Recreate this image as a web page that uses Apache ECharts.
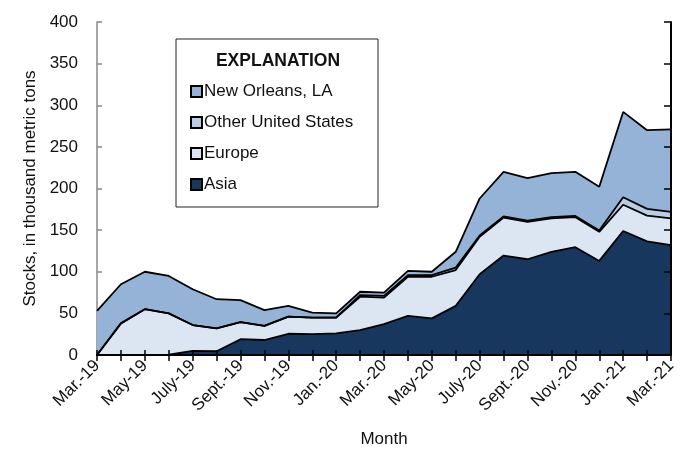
<!DOCTYPE html>
<html>
<head>
<meta charset="utf-8">
<script src="https://cdn.jsdelivr.net/npm/echarts@6/dist/echarts.min.js"></script>
<style>
html,body{margin:0;padding:0;background:#fff;}
#chart{width:681px;height:453px;}
</style>
</head>
<body>
<div id="chart"></div>
<script>
var months = ['Mar.-19','Apr.-19','May-19','June-19','July-19','Aug.-19','Sept.-19','Oct.-19','Nov.-19','Dec.-19',
  'Jan.-20','Feb.-20','Mar.-20','Apr.-20','May-20','June-20','July-20','Aug.-20','Sept.-20','Oct.-20','Nov.-20','Dec.-20',
  'Jan.-21','Feb.-21','Mar.-21'];
var asia = [0,0,0,0.5,5,4.5,19,18,25.5,25,26,30,37,47,44,59,97,119.5,115,124,129.5,113,149,136.5,132];
var europe = [0,38,55,49.5,31,27.5,20.5,17,20.5,20,19,40,32,47,50,43,45,45.5,45,40,36,35,31.5,31,32];
var otherUS = [0,0,0,0,0,0,0,0,0,0,0,2,2,2,2,3,1.5,1.5,1.5,1.5,1.5,1.5,9,8,8];
var newOrleans = [53,47,45,45,43,35,26.5,19,13,6,5,4,4,5,4,19,44.5,53.5,51,53,53,52.5,102.5,94.5,99];
var yTicks = [0,50,100,150,200,250,300,350,400];

var FONT = '"Liberation Sans",Arial,sans-serif';
var chart = echarts.init(document.getElementById('chart'), null, {renderer:'canvas'});

function mk(name, data, color){
  return {
    name: name, type: 'line', stack: 'total', data: data, symbol: 'none',
    lineStyle: {color: '#000', width: 1.8},
    areaStyle: {color: color, opacity: 1},
    itemStyle: {color: color, borderColor: '#000', borderWidth: 1.5},
    emphasis: {disabled: true}
  };
}

chart.setOption({
  animation: false,
  backgroundColor: '#fff',
  grid: {left: 97, right: 10, top: 22, bottom: 96},
  legend: {
    orient: 'vertical', left: 190, top: 83, padding: 0,
    data: ['New Orleans, LA','Other United States','Europe','Asia'],
    icon: 'rect', itemWidth: 11, itemHeight: 11, itemGap: 14,
    textStyle: {fontFamily: FONT, fontSize: 17, color: '#111', lineHeight: 17, padding: [0,0,0,-3]},
    selectedMode: false
  },
  graphic: [
    {type: 'rect', z: 0, shape: {x: 176, y: 39, width: 202, height: 168},
     style: {fill: '#fff', stroke: '#222', lineWidth: 1}},
    {type: 'text', z: 1, style: {text: 'EXPLANATION', x: 278, y: 61, align: 'center', verticalAlign: 'middle',
      font: 'bold 17.5px ' + FONT, fill: '#111'}}
  ],
  xAxis: [{
    type: 'category', data: months, boundaryGap: false, z: 10,
    name: 'Month', nameLocation: 'middle', nameGap: 76,
    nameTextStyle: {fontFamily: FONT, fontSize: 17, color: '#111'},
    axisLine: {lineStyle: {color: '#000', width: 2}},
    axisTick: {inside: true, length: 5, interval: 0, lineStyle: {color: '#000', width: 1.5}},
    axisLabel: {interval: 1, rotate: 45, fontFamily: FONT, fontSize: 17, color: '#111', margin: 8},
    splitLine: {show: false}
  },{
    type: 'category', data: months, boundaryGap: false, position: 'top', z: 10,
    axisLine: {lineStyle: {color: '#000', width: 1.5}},
    axisTick: {inside: true, length: 6, interval: 0, lineStyle: {color: '#000', width: 1.5}},
    axisLabel: {show: false}
  }],
  yAxis: [{
    type: 'value', min: 0, max: 400, interval: 50,
    name: 'Stocks, in thousand metric tons', nameLocation: 'middle', nameGap: 58,
    nameTextStyle: {fontFamily: FONT, fontSize: 17, color: '#111'},
    axisLine: {show: true, lineStyle: {color: '#888', width: 1.5}},
    axisTick: {show: true, inside: true, length: 5, lineStyle: {color: '#888', width: 1.5}},
    axisLabel: {fontFamily: FONT, fontSize: 17, color: '#111', margin: 19,
      formatter: function(v){ return yTicks.indexOf(v) >= 0 ? String(v) : ''; }},
    splitLine: {show: false}
  },{
    type: 'value', min: 0, max: 400, interval: 50, position: 'right', z: 10,
    axisLine: {show: true, lineStyle: {color: '#000', width: 2}},
    axisTick: {show: true, inside: true, length: 7, lineStyle: {color: '#000', width: 1.5}},
    axisLabel: {show: false}, splitLine: {show: false}
  }],
  series: [
    mk('Asia', asia, '#17375E'),
    mk('Europe', europe, '#DCE6F2'),
    mk('Other United States', otherUS, '#B9CDE5'),
    mk('New Orleans, LA', newOrleans, '#95B3D7')
  ]
});
</script>
</body>
</html>
